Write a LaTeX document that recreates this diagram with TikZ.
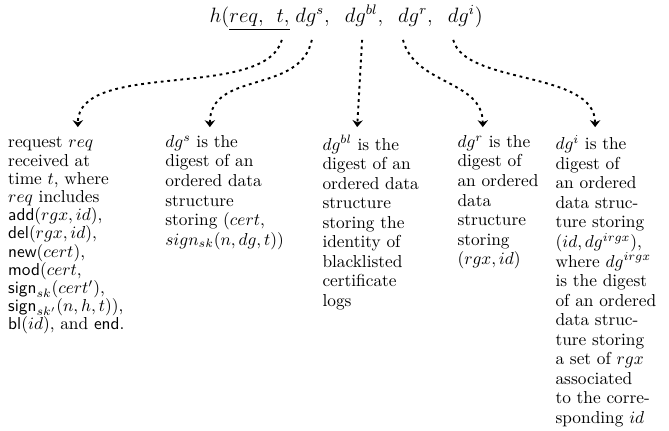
\documentclass[tikz,border=0pt]{standalone}
\usepackage{amsmath}
\usetikzlibrary{positioning,arrows.meta,calc}

\begin{document}
\begin{tikzpicture}[
    desc/.style={anchor=north west,inner sep=0pt,align=left,font=\fontsize{10}{11.3}\selectfont},
    link/.style={line width=1.1pt,dash pattern=on 1.6pt off 2.2pt,-{Stealth[length=4pt,width=6pt]}}]
    % Hash input and what each part stands for
    \useasboundingbox (0,0) rectangle (13.58,-8.73);
    \node[anchor=base west,inner sep=0pt] (hash) at (4.25,-0.45)
        {\large $h(\underline{req,\;\, t,}\; dg^s,\;\; dg^{bl},\;\; dg^r,\;\; dg^i)$};

    \coordinate (reqt) at (5.72,-0.81);
    \coordinate (dgs) at (6.33,-0.81);
    \coordinate (dgbl) at (7.35,-0.81);
    \coordinate (dgr) at (8.18,-0.81);
    \coordinate (dgi) at (9.20,-0.81);

    \node[desc,font=\fontsize{10}{10.5}\selectfont] (request) at (0.16,-2.78) {request $req$\\ received at\\ time $t$, where\\ $req$ includes\\
        $\textsf{add}(rgx, id)$,\\ $\textsf{del}(rgx, id)$,\\ $\textsf{new}(cert)$,\\ $\textsf{mod}(cert$,\\
        $\textsf{sign}_{sk}(cert')$,\\ $\textsf{sign}_{sk'}(n, h, t))$,\\ $\textsf{bl}(id)$, and \textsf{end}.};
    \node[desc] (digs) at (3.35,-2.74) {$dg^s$ is the\\ digest of an\\ ordered data\\ structure\\
        storing $(cert$,\\ $sign_{sk}(n, dg, t))$};
    \node[desc] (digbl) at (6.54,-2.74) {$dg^{bl}$ is the\\ digest of an\\ ordered data\\ structure\\
        storing the\\ identity of\\ blacklisted\\ certificate\\ logs};
    \node[desc] (digr) at (9.28,-2.74) {$dg^r$ is the\\ digest of\\ an ordered\\ data\\ structure\\
        storing\\ $(rgx, id)$};
    \node[desc] (digi) at (11.27,-2.74) {$dg^i$ is the\\ digest of\\ an ordered\\ data struc-\\
        ture storing\\ $(id, dg^{irgx})$,\\ where $dg^{irgx}$\\ is the digest\\ of an ordered\\
        data struc-\\ ture storing\\ a set of $rgx$\\ associated\\ to the corre-\\ sponding $id$};

    \draw[link] (reqt) .. controls (5.38,-2.05) and (1.58,-1.2) .. ([xshift=1.42cm,yshift=0.2cm]request.north west);
    \draw[link] (dgs) .. controls (6.09,-1.93) and (4.26,-1.42) .. ([xshift=0.91cm,yshift=0.16cm]digs.north west);
    \draw[link] (dgbl) -- ([xshift=0.71cm,yshift=0.16cm]digbl.north west);
    \draw[link] (dgr) .. controls (8.42,-1.73) and (9.80,-1.62) .. ([xshift=0.52cm,yshift=0.16cm]digr.north west);
    \draw[link] (dgi) .. controls (9.44,-1.73) and (12.08,-1.42) .. ([xshift=0.81cm,yshift=0.16cm]digi.north west);
\end{tikzpicture}
\end{document}
